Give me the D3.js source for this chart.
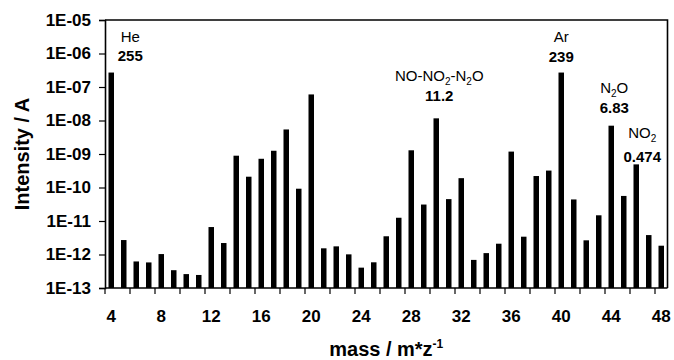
<!DOCTYPE html>
<html>
<head>
    <title>Mass spectrum</title>
    <script src="https://d3js.org/d3.v7.min.js"></script>
    <style>
        body { margin: 0; background: #fff; }
        svg text { font-family: "Liberation Sans", Arial, sans-serif; fill: #000; }
        .tick-label { font-size: 17px; font-weight: bold; }
        .axis-title { font-size: 20px; font-weight: bold; }
        .peak-name { font-size: 15px; }
        .peak-value { font-size: 15px; font-weight: bold; }
    </style>
</head>
<body>
    <div id="chart"></div>
    <script>
        // m/z channels and measured ion current (A)
        const masses = [4, 5, 6, 7, 8, 9, 10, 11, 12, 13, 14, 15, 16, 17, 18, 19, 20, 21, 22, 23, 24, 25,
            26, 27, 28, 29, 30, 31, 32, 33, 34, 35, 36, 37, 38, 39, 40, 41, 42, 43, 44, 45, 46, 47, 48];
        const intensity = [2.7e-7, 2.7e-12, 6.2e-13, 5.8e-13, 1.03e-12, 3.4e-13, 2.6e-13, 2.45e-13, 6.6e-12, 2.2e-12,
            8.9e-10, 2.1e-10, 7.2e-10, 1.25e-9, 5.4e-9, 9.2e-11, 6.0e-8, 1.53e-12, 1.75e-12, 1.01e-12,
            4.05e-13, 5.85e-13, 3.5e-12, 1.25e-11, 1.29e-9, 3.1e-11, 1.16e-8, 4.5e-11, 1.9e-10, 6.9e-13,
            1.1e-12, 2.1e-12, 1.18e-9, 3.4e-12, 2.2e-10, 3.2e-10, 2.7e-7, 4.4e-11, 2.65e-12, 1.48e-11,
            7.0e-9, 5.6e-11, 4.9e-10, 3.8e-12, 1.83e-12];
        const xTickLabels = [4, 8, 12, 16, 20, 24, 28, 32, 36, 40, 44, 48];
        const yTickValues = [1e-5, 1e-6, 1e-7, 1e-8, 1e-9, 1e-10, 1e-11, 1e-12, 1e-13];

        // labelled peaks: name pieces as [text, isSubscript]
        const peakMasses = [4, 30, 40, 44, 46];
        const peakNames = [
            [["He", false]],
            [["NO-NO", false], ["2", true], ["-N", false], ["2", true], ["O", false]],
            [["Ar", false]],
            [["N", false], ["2", true], ["O", false]],
            [["NO", false], ["2", true]]
        ];
        const peakValues = ["255", "11.2", "239", "6.83", "0.474"];

        const width = 674, height = 360;
        const margin = { top: 20, right: 6.5, bottom: 72, left: 105 };

        const svg = d3.select("#chart").append("svg")
            .attr("width", width)
            .attr("height", height);

        const x = d3.scaleBand()
            .domain(masses)
            .range([margin.left, width - margin.right])
            .paddingInner(0.56)
            .paddingOuter(0.28);

        const y = d3.scaleLog()
            .domain([1e-13, 1e-5])
            .range([height - margin.bottom, margin.top]);

        const step = x.step();
        const x0 = margin.left, x1 = width - margin.right;
        const y0 = height - margin.bottom, y1 = margin.top;

        // bars
        svg.append("g")
            .selectAll("rect")
            .data(masses)
            .join("rect")
            .attr("x", (d) => x(d))
            .attr("width", x.bandwidth())
            .attr("y", (d, i) => y(intensity[i]))
            .attr("height", (d, i) => y0 - y(intensity[i]))
            .attr("fill", "#000");

        // frame (top + right)
        svg.append("path")
            .attr("d", `M${x0},${y1}H${x1}V${y0}`)
            .attr("fill", "none")
            .attr("stroke", "#000")
            .attr("stroke-width", 1.6);

        // y axis
        const fmtExp = (v) => {
            const e = Math.round(Math.log10(v));
            return "1E-" + String(-e).padStart(2, "0");
        };
        const yAxis = svg.append("g")
            .attr("transform", `translate(${x0},0)`)
            .call(d3.axisLeft(y).tickValues(yTickValues).tickFormat(fmtExp).tickSize(6).tickPadding(8));
        yAxis.select(".domain").attr("stroke-width", 1.6);
        yAxis.selectAll(".tick line").attr("stroke-width", 1.2);
        yAxis.selectAll(".tick text").attr("class", "tick-label").attr("font-size", null).attr("font-family", null);

        // x axis: tick marks every 2 channels on band edges, labels every 4
        const xAxis = svg.append("g");
        xAxis.append("line")
            .attr("x1", x0).attr("x2", x1)
            .attr("y1", y0).attr("y2", y0)
            .attr("stroke", "#000").attr("stroke-width", 1.6);
        const tickMasses = masses.filter((m) => (m - masses[0]) % 2 === 0);
        xAxis.selectAll(".xtick")
            .data(tickMasses)
            .join("line")
            .attr("class", "xtick")
            .attr("x1", (d) => x(d) - x.paddingInner() * step / 2)
            .attr("x2", (d) => x(d) - x.paddingInner() * step / 2)
            .attr("y1", y0).attr("y2", y0 + 6)
            .attr("stroke", "#000").attr("stroke-width", 1.2);
        xAxis.selectAll(".xlabel")
            .data(xTickLabels)
            .join("text")
            .attr("class", "tick-label")
            .attr("x", (d) => x(d) + x.bandwidth() / 2)
            .attr("y", y0 + 34)
            .attr("text-anchor", "middle")
            .text((d) => d);

        // axis titles
        const xt = svg.append("text")
            .attr("class", "axis-title")
            .attr("x", (x0 + x1) / 2)
            .attr("y", height - 4)
            .attr("text-anchor", "middle");
        xt.append("tspan").text("mass / m*z");
        xt.append("tspan").attr("dy", -8).attr("font-size", 12).text("-1");

        svg.append("text")
            .attr("class", "axis-title")
            .attr("transform", `translate(29,${(y0 + y1) / 2}) rotate(-90)`)
            .attr("text-anchor", "middle")
            .text("Intensity / A");

        // peak annotations (offsets relative to bar centre)
        const labelPos = [
            { dx: 19, name: 42, value: 61 },
            { dx: 3, name: 81, value: 101 },
            { dx: 0, name: 42, value: 62 },
            { dx: 3, name: 93, value: 113 },
            { dx: 6, name: 138, value: 162 }
        ];
        peakMasses.forEach((m, i) => {
            const cx = x(m) + x.bandwidth() / 2 + labelPos[i].dx;
            const t = svg.append("text")
                .attr("class", "peak-name")
                .attr("x", cx)
                .attr("y", labelPos[i].name)
                .attr("text-anchor", "middle");
            peakNames[i].forEach(([s, sub]) => {
                if (sub) {
                    t.append("tspan").attr("dy", 4).attr("font-size", 10).text(s);
                } else {
                    const ts = t.append("tspan").text(s);
                    if (t.node().childNodes.length > 1) ts.attr("dy", -4);
                }
            });
            svg.append("text")
                .attr("class", "peak-value")
                .attr("x", cx)
                .attr("y", labelPos[i].value)
                .attr("text-anchor", "middle")
                .text(peakValues[i]);
        });
    </script>
</body>
</html>
